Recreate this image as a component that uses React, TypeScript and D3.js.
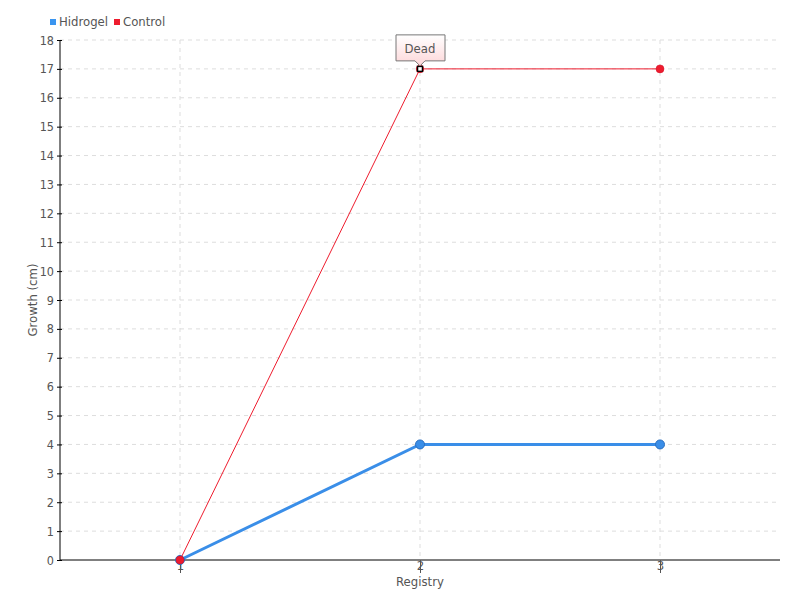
import * as d3 from "d3";
import { useRef, useEffect } from "react";

const registry = ["1", "2", "3"];
const hidrogel = [0, 4, 4];
const control = [0, 17, 17];
const yTicks = d3.range(0, 19);
const deadIndex = 1;
const deadLabel = "Dead";

const width = 800;
const height = 600;
const marginTop = 40;
const marginRight = 20;
const marginBottom = 40;
const marginLeft = 60;
const font = "'DejaVu Sans Condensed', 'DejaVu Sans', sans-serif";

export default function App() {
  const gx = useRef<SVGGElement>(null);
  const gy = useRef<SVGGElement>(null);
  const x = d3.scalePoint(registry, [marginLeft, width - marginRight]).padding(0.5);
  const y = d3.scaleLinear([0, 18], [height - marginBottom, marginTop]);
  const line = d3.line<number>(
    (d, i) => x(registry[i])!,
    (d) => y(d)
  );

  useEffect(() => {
    const g = d3.select(gx.current!);
    g.call(d3.axisBottom(x).tickSize(13).tickPadding(-12) as any);
    g.select(".domain").attr("stroke", "#000").attr("d", `M${marginLeft},0H${width - marginRight}`);
    g.selectAll(".tick line").attr("stroke", "#555");
    g.selectAll(".tick text")
      .attr("fill", "#555")
      .attr("font-family", font)
      .attr("font-size", 13)
      .attr("dy", "0.71em");
  }, []);

  useEffect(() => {
    const g = d3.select(gy.current!);
    g.call(d3.axisLeft(y).tickValues(yTicks).tickSize(3).tickPadding(3) as any);
    g.select(".domain").attr("stroke", "#000").attr("d", `M0,${marginTop}V${height - marginBottom}`);
    g.selectAll(".tick line").attr("stroke", "#000").attr("x2", -3).attr("x1", 2);
    g.selectAll(".tick text")
      .attr("fill", "#555")
      .attr("font-family", font)
      .attr("font-size", 12.5);
  }, []);

  const dx = x(registry[deadIndex])!;
  const dy = y(control[deadIndex]);

  return (
    <svg width={width} height={height} style={{ position: "absolute", left: 0, top: 0 }}>
      <defs>
        <linearGradient id="tip" x1="0" x2="0" y1="0" y2="1">
          <stop offset="0" stopColor="#ffffff" />
          <stop offset="1" stopColor="#fdd6d8" />
        </linearGradient>
      </defs>
      <rect width={width} height={height} fill="#fff" />
      {/* grid */}
      <g stroke="#ddd" strokeDasharray="4,4">
        {yTicks.slice(1).map((t) => (
          <line key={t} x1={marginLeft} x2={width - marginRight} y1={y(t)} y2={y(t)} />
        ))}
        {registry.map((r) => (
          <line key={r} x1={x(r)} x2={x(r)} y1={marginTop} y2={height - marginBottom} />
        ))}
      </g>
      <g ref={gx} transform={`translate(0,${height - marginBottom})`} />
      <g ref={gy} transform={`translate(${marginLeft},0)`} />
      <text
        transform={`translate(37,${(marginTop + height - marginBottom) / 2}) rotate(-90)`}
        textAnchor="middle"
        fontFamily={font}
        fontSize={13}
        fill="#555"
      >
        Growth (cm)
      </text>
      <text x={420} y={586} textAnchor="middle" fontFamily={font} fontSize={13} fill="#555">
        Registry
      </text>
      {/* legend */}
      <rect x={50} y={19} width={6} height={6} fill="#3a95f0" />
      <text x={59} y={26} fontFamily={font} fontSize={13} fill="#555">Hidrogel</text>
      <rect x={114} y={19} width={6} height={6} fill="#ee1c2e" />
      <text x={123} y={26} fontFamily={font} fontSize={13} fill="#555">Control</text>
      {/* series */}
      <path d={line(hidrogel)!} fill="none" stroke="#3a8ee8" strokeWidth={3} />
      {hidrogel.map((d, i) => (
        <circle key={i} cx={x(registry[i])} cy={y(d)} r={4.5} fill="#3a8ee8" stroke="#2a6fc0" strokeWidth={1} />
      ))}
      <path d={line(control)!} fill="none" stroke="#ee1c2e" strokeWidth={1} />
      {control.map((d, i) =>
        i === deadIndex ? (
          <g key={i}>
            <circle cx={x(registry[i])} cy={y(d)} r={4} fill="#ee1c2e" />
            <rect x={x(registry[i])! - 2.5} y={y(d) - 2.5} width={5} height={5} fill="#fff" stroke="#000" strokeWidth={1.5} />
          </g>
        ) : (
          <circle key={i} cx={x(registry[i])} cy={y(d)} r={4} fill="#ee1c2e" stroke="#d0102a" strokeWidth={0.5} />
        )
      )}
      {/* tooltip */}
      <path
        d={`M${dx - 24},${dy - 34}H${dx + 25}V${dy - 8}H${dx + 5}L${dx},${dy - 3}L${dx - 5},${dy - 8}H${dx - 24}Z`}
        fill="url(#tip)"
        stroke="#777"
        strokeWidth={1}
      />
      <text x={dx} y={dy - 16} textAnchor="middle" fontFamily={font} fontSize={13} fill="#555">
        {deadLabel}
      </text>
    </svg>
  );
}
